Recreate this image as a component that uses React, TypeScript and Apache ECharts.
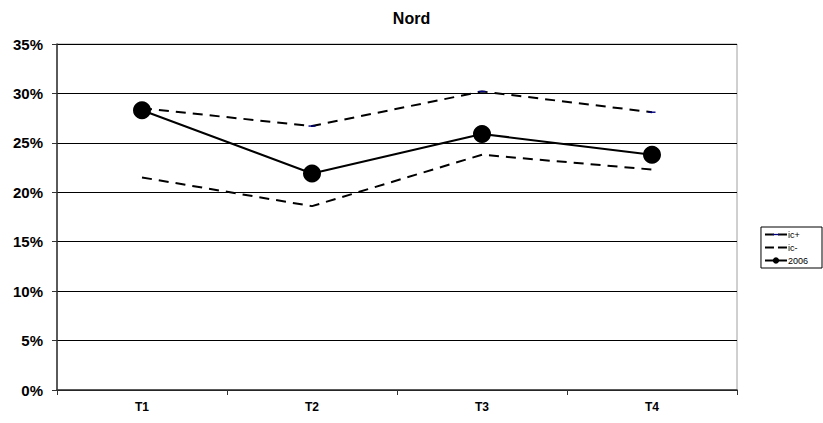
import React, { useEffect, useRef } from "react";
import * as echarts from "echarts";

const categories = ["T1", "T2", "T3", "T4"];
const icPlus = [28.5, 26.7, 30.2, 28.1];
const icMinus = [21.5, 18.6, 23.8, 22.3];
const y2006 = [28.3, 21.9, 25.9, 23.8];
const chartTitle = "Nord";

// thin horizontal dash marker (degenerate sub-paths keep a square bounding box)
const dashMarker = "path://M0,0L0,0M0,4L10,4L10,6L0,6ZM10,10L10,10";

export default function App() {
  const ref = useRef<HTMLDivElement>(null);
  useEffect(() => {
    if (!ref.current) return;
    const chart = echarts.init(ref.current, null, { renderer: "svg" });
    const font = "Arial, 'Liberation Sans', sans-serif";
    chart.setOption({
      animation: false,
      backgroundColor: "#fff",
      title: {
        text: chartTitle,
        left: "center",
        top: 5,
        textStyle: { fontFamily: font, fontSize: 16, fontWeight: "bold", color: "#000" },
      },
      legend: {
        orient: "vertical",
        right: 1,
        top: 227,
        itemWidth: 22,
        itemHeight: 8,
        itemGap: 4,
        padding: [3, 14, 3, 3],
        borderColor: "#000",
        borderWidth: 1,
        textStyle: { fontFamily: font, fontSize: 9, color: "#000", padding: [0, 0, 0, -4] },
        data: [
          { name: "ic+", lineStyle: { type: [9, 4], width: 2 } },
          { name: "ic-", itemStyle: { opacity: 0 }, lineStyle: { type: [9, 4], width: 2 } },
          { name: "2006" },
        ],
      },
      grid: {
        left: 57,
        right: 86,
        top: 44,
        bottom: 33,
        show: true,
        borderColor: "#a0a0a0",
        borderWidth: 1,
      },
      xAxis: {
        type: "category",
        data: categories,
        boundaryGap: true,
        axisLine: { lineStyle: { color: "#333", width: 1.5 } },
        axisTick: { show: true, length: 5, lineStyle: { color: "#333" } },
        axisLabel: { fontFamily: font, fontSize: 12, fontWeight: "bold", color: "#000", margin: 11 },
        splitLine: { show: false },
      },
      yAxis: {
        type: "value",
        min: 0,
        max: 35,
        interval: 5,
        axisLine: { show: true, lineStyle: { color: "#333", width: 1.5 } },
        axisTick: { show: true, length: 5, lineStyle: { color: "#333" } },
        axisLabel: {
          fontFamily: font,
          fontSize: 15,
          fontWeight: "bold",
          color: "#000",
          margin: 14,
          formatter: (v: number) => `${v}%`,
        },
        splitLine: { show: true, lineStyle: { color: "#000", width: 1 } },
      },
      series: [
        {
          name: "ic+",
          type: "line",
          data: icPlus,
          symbol: dashMarker,
          symbolSize: 7,
          itemStyle: { color: "#000080" },
          lineStyle: { color: "#000", width: 2, type: [10, 7] },
        },
        {
          name: "ic-",
          type: "line",
          data: icMinus,
          symbol: "none",
          itemStyle: { color: "#000" },
          lineStyle: { color: "#000", width: 2, type: [10, 7] },
        },
        {
          name: "2006",
          type: "line",
          data: y2006,
          symbol: "circle",
          symbolSize: 18,
          itemStyle: { color: "#000" },
          lineStyle: { color: "#000", width: 2 },
        },
      ],
    });
    return () => chart.dispose();
  }, []);
  return <div ref={ref} style={{ width: 823, height: 423, position: "absolute", left: 0, top: 0 }} />;
}
